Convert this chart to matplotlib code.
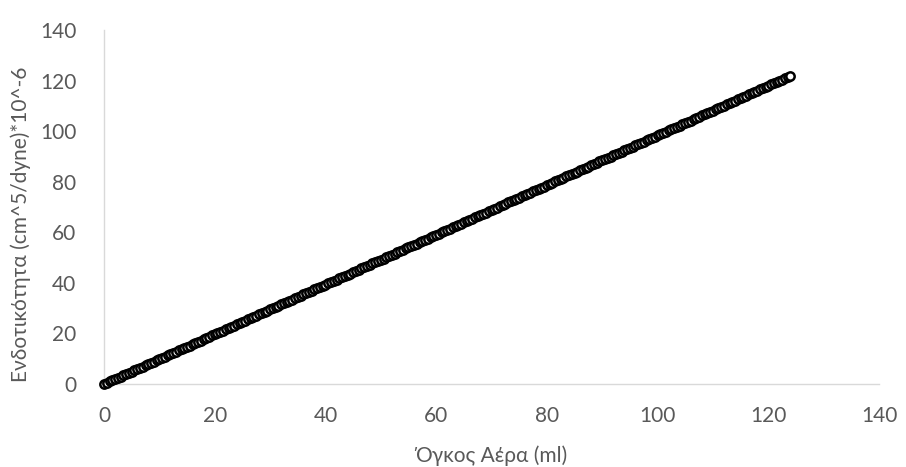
import matplotlib
matplotlib.use("Agg")
import matplotlib.pyplot as plt

# Air volume (ml), sampled every 0.5 ml
volume_ml = [
    0.0, 0.5, 1.0, 1.5, 2.0, 2.5, 3.0, 3.5, 4.0, 4.5,
    5.0, 5.5, 6.0, 6.5, 7.0, 7.5, 8.0, 8.5, 9.0, 9.5,
    10.0, 10.5, 11.0, 11.5, 12.0, 12.5, 13.0, 13.5, 14.0, 14.5,
    15.0, 15.5, 16.0, 16.5, 17.0, 17.5, 18.0, 18.5, 19.0, 19.5,
    20.0, 20.5, 21.0, 21.5, 22.0, 22.5, 23.0, 23.5, 24.0, 24.5,
    25.0, 25.5, 26.0, 26.5, 27.0, 27.5, 28.0, 28.5, 29.0, 29.5,
    30.0, 30.5, 31.0, 31.5, 32.0, 32.5, 33.0, 33.5, 34.0, 34.5,
    35.0, 35.5, 36.0, 36.5, 37.0, 37.5, 38.0, 38.5, 39.0, 39.5,
    40.0, 40.5, 41.0, 41.5, 42.0, 42.5, 43.0, 43.5, 44.0, 44.5,
    45.0, 45.5, 46.0, 46.5, 47.0, 47.5, 48.0, 48.5, 49.0, 49.5,
    50.0, 50.5, 51.0, 51.5, 52.0, 52.5, 53.0, 53.5, 54.0, 54.5,
    55.0, 55.5, 56.0, 56.5, 57.0, 57.5, 58.0, 58.5, 59.0, 59.5,
    60.0, 60.5, 61.0, 61.5, 62.0, 62.5, 63.0, 63.5, 64.0, 64.5,
    65.0, 65.5, 66.0, 66.5, 67.0, 67.5, 68.0, 68.5, 69.0, 69.5,
    70.0, 70.5, 71.0, 71.5, 72.0, 72.5, 73.0, 73.5, 74.0, 74.5,
    75.0, 75.5, 76.0, 76.5, 77.0, 77.5, 78.0, 78.5, 79.0, 79.5,
    80.0, 80.5, 81.0, 81.5, 82.0, 82.5, 83.0, 83.5, 84.0, 84.5,
    85.0, 85.5, 86.0, 86.5, 87.0, 87.5, 88.0, 88.5, 89.0, 89.5,
    90.0, 90.5, 91.0, 91.5, 92.0, 92.5, 93.0, 93.5, 94.0, 94.5,
    95.0, 95.5, 96.0, 96.5, 97.0, 97.5, 98.0, 98.5, 99.0, 99.5,
    100.0, 100.5, 101.0, 101.5, 102.0, 102.5, 103.0, 103.5, 104.0, 104.5,
    105.0, 105.5, 106.0, 106.5, 107.0, 107.5, 108.0, 108.5, 109.0, 109.5,
    110.0, 110.5, 111.0, 111.5, 112.0, 112.5, 113.0, 113.5, 114.0, 114.5,
    115.0, 115.5, 116.0, 116.5, 117.0, 117.5, 118.0, 118.5, 119.0, 119.5,
    120.0, 120.5, 121.0, 121.5, 122.0, 122.5, 123.0, 123.5, 124.0,
]
# Compliance (cm^5/dyne * 10^-6) at each volume
compliance = [
    0.0, 0.5, 1.0, 1.5, 2.0, 2.5, 2.9, 3.4, 3.9, 4.4,
    4.9, 5.4, 5.9, 6.4, 6.9, 7.4, 7.9, 8.4, 8.8, 9.3,
    9.8, 10.3, 10.8, 11.3, 11.8, 12.3, 12.8, 13.3, 13.8, 14.3,
    14.7, 15.2, 15.7, 16.2, 16.7, 17.2, 17.7, 18.2, 18.7, 19.2,
    19.7, 20.2, 20.6, 21.1, 21.6, 22.1, 22.6, 23.1, 23.6, 24.1,
    24.6, 25.1, 25.6, 26.0, 26.5, 27.0, 27.5, 28.0, 28.5, 29.0,
    29.5, 30.0, 30.5, 31.0, 31.5, 31.9, 32.4, 32.9, 33.4, 33.9,
    34.4, 34.9, 35.4, 35.9, 36.4, 36.9, 37.4, 37.8, 38.3, 38.8,
    39.3, 39.8, 40.3, 40.8, 41.3, 41.8, 42.3, 42.8, 43.3, 43.7,
    44.2, 44.7, 45.2, 45.7, 46.2, 46.7, 47.2, 47.7, 48.2, 48.7,
    49.2, 49.6, 50.1, 50.6, 51.1, 51.6, 52.1, 52.6, 53.1, 53.6,
    54.1, 54.6, 55.0, 55.5, 56.0, 56.5, 57.0, 57.5, 58.0, 58.5,
    59.0, 59.5, 60.0, 60.5, 60.9, 61.4, 61.9, 62.4, 62.9, 63.4,
    63.9, 64.4, 64.9, 65.4, 65.9, 66.4, 66.8, 67.3, 67.8, 68.3,
    68.8, 69.3, 69.8, 70.3, 70.8, 71.3, 71.8, 72.3, 72.7, 73.2,
    73.7, 74.2, 74.7, 75.2, 75.7, 76.2, 76.7, 77.2, 77.7, 78.1,
    78.6, 79.1, 79.6, 80.1, 80.6, 81.1, 81.6, 82.1, 82.6, 83.1,
    83.6, 84.0, 84.5, 85.0, 85.5, 86.0, 86.5, 87.0, 87.5, 88.0,
    88.5, 89.0, 89.5, 89.9, 90.4, 90.9, 91.4, 91.9, 92.4, 92.9,
    93.4, 93.9, 94.4, 94.9, 95.4, 95.8, 96.3, 96.8, 97.3, 97.8,
    98.3, 98.8, 99.3, 99.8, 100.3, 100.8, 101.2, 101.7, 102.2, 102.7,
    103.2, 103.7, 104.2, 104.7, 105.2, 105.7, 106.2, 106.7, 107.1, 107.6,
    108.1, 108.6, 109.1, 109.6, 110.1, 110.6, 111.1, 111.6, 112.1, 112.6,
    113.0, 113.5, 114.0, 114.5, 115.0, 115.5, 116.0, 116.5, 117.0, 117.5,
    118.0, 118.5, 118.9, 119.4, 119.9, 120.4, 120.9, 121.4, 121.9,
]
x_ticks = [0, 20, 40, 60, 80, 100, 120, 140]
y_ticks = [0, 20, 40, 60, 80, 100, 120, 140]

plt.rcParams["font.family"] = ["Lato", "DejaVu Sans"]

fig = plt.figure(figsize=(9.06, 4.67), dpi=100)
ax = fig.add_axes([0.1148, 0.1777, 0.8554, 0.7581])

ax.plot(volume_ml, compliance, linestyle="none", marker="o", markersize=6,
        markerfacecolor="white", markeredgecolor="black", markeredgewidth=1.8,
        clip_on=False, zorder=3)

ax.set_xlim(0, 140)
ax.set_ylim(0, 140)
ax.set_xticks(x_ticks)
ax.set_yticks(y_ticks)

for side in ("top", "right"):
    ax.spines[side].set_visible(False)
for side in ("left", "bottom"):
    ax.spines[side].set_color("#d9d9d9")
    ax.spines[side].set_linewidth(1.0)

ax.tick_params(axis="both", length=0, labelsize=15, colors="#595959")
ax.tick_params(axis="x", pad=16)
ax.tick_params(axis="y", pad=20)

ax.set_xlabel("Όγκος Αέρα (ml)", fontsize=15, color="#595959", labelpad=14)
ax.set_ylabel("Ενδοτικότητα (cm^5/dyne)*10^-6", fontsize=15, color="#595959")
ax.yaxis.set_label_coords(-0.094, 0.45)

fig.savefig("out.png", dpi=100)
